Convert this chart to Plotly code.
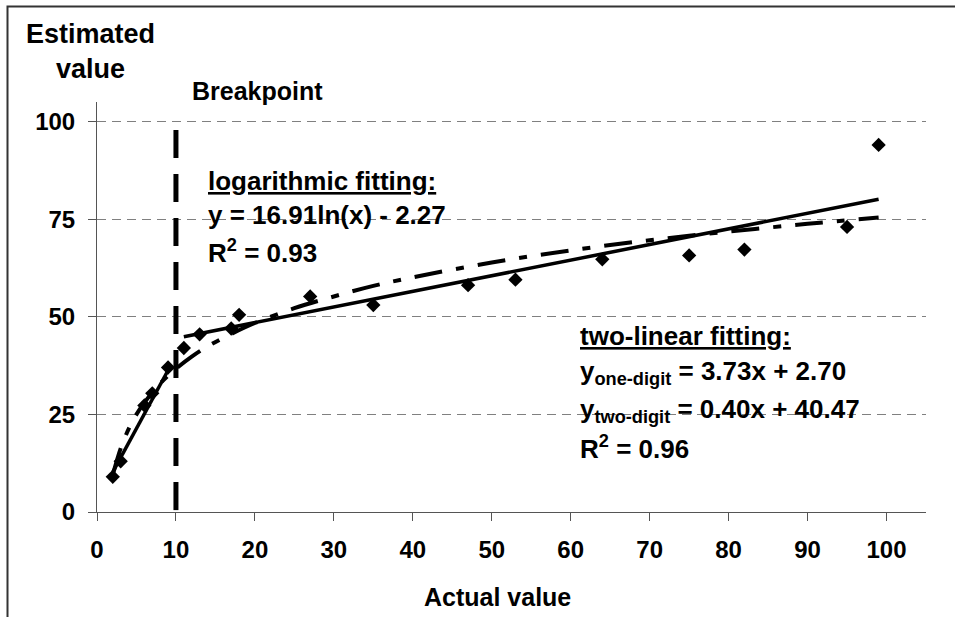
import plotly.graph_objects as go

# ---------------- data ----------------
actual = [2, 3, 6, 7, 9, 11, 13, 17, 18, 27, 35, 47, 53, 64, 75, 82, 95, 99]
estimated = [9, 13, 27.3, 30.4, 37, 42, 45.5, 47, 50.5, 55.2, 53, 58.1, 59.5, 64.7, 65.7, 67.2, 73, 94]

# two-linear fit segments (end points)
one_digit_x = [2, 9]
one_digit_y = [10.2, 36.3]
two_digit_x = [11, 99]
two_digit_y = [44.9, 80.1]

# logarithmic fit curve
log_x = [2, 3, 4, 5, 6, 7, 8, 9, 10, 12, 14, 17, 20, 25, 30, 35, 40, 50, 60, 70, 80, 90, 99]
log_y = [9.5, 16.3, 21.2, 25.0, 28.0, 30.6, 32.9, 34.9, 36.7, 39.8, 42.4, 45.6, 48.4, 52.2,
         55.2, 57.9, 60.1, 63.9, 67.0, 69.6, 71.8, 73.8, 75.4]

breakpoint_x = [10, 10]
breakpoint_y = [97.8, 0]

x_ticks = [0, 10, 20, 30, 40, 50, 60, 70, 80, 90, 100]
y_ticks = [0, 25, 50, 75, 100]

# ---------------- layout geometry ----------------
W, H = 955, 617
L, R, T, B = 97, 29, 102, 105
PW, PH = W - L - R, H - T - B


def px(x):
    return (x - L) / PW


def py(y):
    return (H - B - y) / PH


FONT = "Liberation Sans, Arial, sans-serif"

fig = go.Figure()

fig.add_trace(go.Scatter(x=breakpoint_x, y=breakpoint_y, mode="lines",
                         line=dict(color="black", width=5, dash="28px,16px"),
                         hoverinfo="skip"))
fig.add_trace(go.Scatter(x=log_x, y=log_y, mode="lines", line_shape="spline",
                         line=dict(color="black", width=4, dash="28px,14px,8px,14px"),
                         hoverinfo="skip"))
fig.add_trace(go.Scatter(x=one_digit_x, y=one_digit_y, mode="lines",
                         line=dict(color="black", width=3.5), hoverinfo="skip"))
fig.add_trace(go.Scatter(x=two_digit_x, y=two_digit_y, mode="lines",
                         line=dict(color="black", width=3.5), hoverinfo="skip"))
fig.add_trace(go.Scatter(x=actual, y=estimated, mode="markers",
                         marker=dict(symbol="diamond", size=11, color="black")))

axis_common = dict(
    showline=True, linecolor="#555555", linewidth=1,
    ticks="outside", ticklen=8, tickcolor="#555555", tickwidth=1,
    tickfont=dict(family=FONT, size=24, color="black", weight="bold"),
    zeroline=False,
)

fig.update_xaxes(range=[0, 105], tickvals=x_ticks, showgrid=False,
                 ticklabelstandoff=8, **axis_common)
fig.update_yaxes(range=[0, 105], tickvals=y_ticks, showgrid=True,
                 gridcolor="#808080", gridwidth=1, griddash="9px,6px",
                 ticklabelstandoff=8, **axis_common)

ann = []


def text(x, y, s, size=26, xanchor="left", under=False):
    f = dict(family=FONT, size=size, color="black", weight="bold")
    if under:
        f["lineposition"] = "under"
    ann.append(dict(x=px(x), y=py(y), xref="paper", yref="paper", text=s,
                    showarrow=False, xanchor=xanchor, yanchor="middle",
                    font=f, align="center"))


text(90, 52, "Estimated<br>value", size=27, xanchor="center")
text(190, 91, "Breakpoint", size=25)
text(497, 597, "Actual value", size=25, xanchor="center")

text(206, 181, "logarithmic fitting:", under=True)
text(206, 215, "y = 16.91ln(x) - 2.27")
text(206, 251, "R<sup>2</sup> = 0.93")

text(578, 336, "two-linear fitting:", under=True)
text(578, 373, "y<sub>one-digit</sub> = 3.73x + 2.70")
text(578, 410, "y<sub>two-digit</sub> = 0.40x + 40.47")
text(578, 447, "R<sup>2</sup> = 0.96")

fig.update_layout(
    width=W, height=H,
    margin=dict(l=L, r=R, t=T, b=B),
    paper_bgcolor="white", plot_bgcolor="white",
    showlegend=False,
    annotations=ann,
    shapes=[dict(type="rect", xref="paper", yref="paper",
                 x0=px(7.5), x1=px(W + 50), y0=py(H + 50), y1=py(6.5),
                 line=dict(color="#333333", width=2), fillcolor="rgba(0,0,0,0)")],
)

fig.write_html("out.html")
